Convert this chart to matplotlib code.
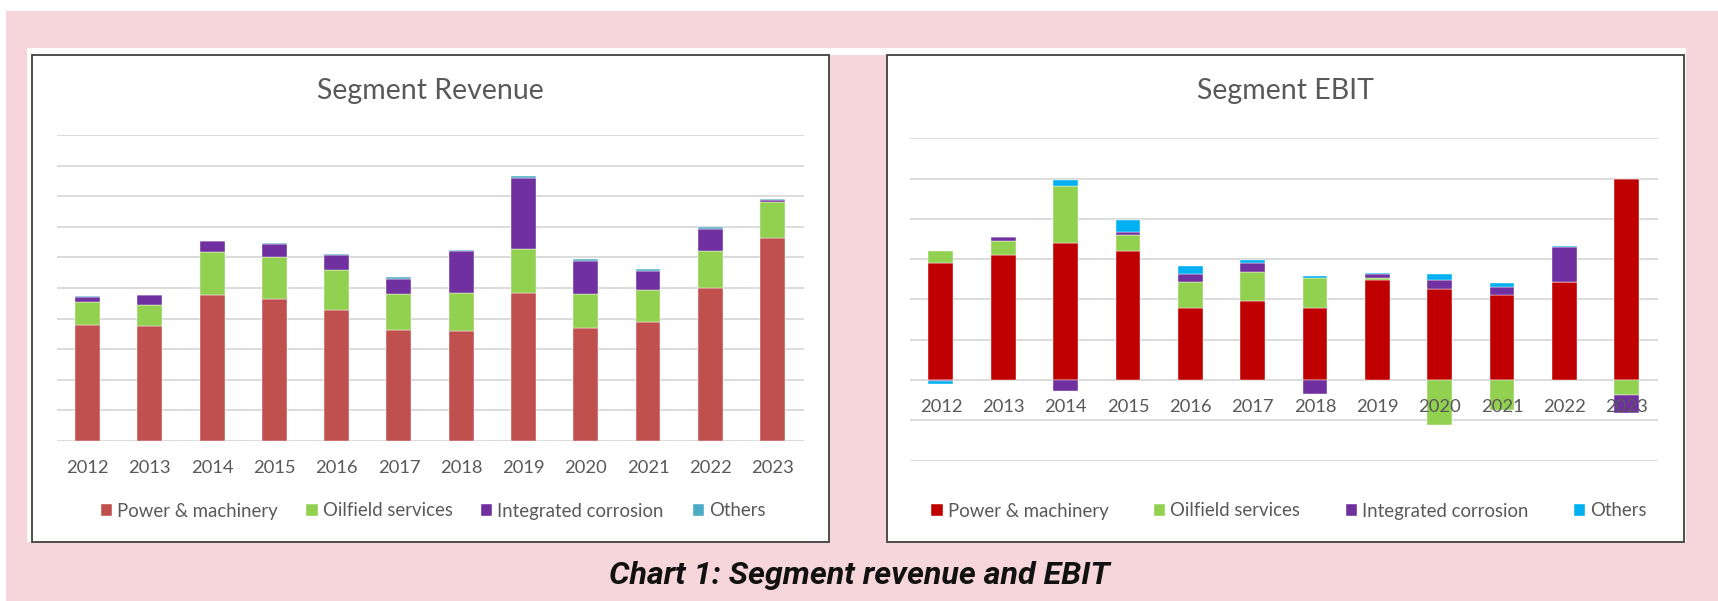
import numpy as np
import matplotlib
matplotlib.use("Agg")
import matplotlib.pyplot as plt
from matplotlib.patches import Rectangle

years = ["2012", "2013", "2014", "2015", "2016", "2017", "2018", "2019", "2020", "2021", "2022", "2023"]
segments = ["Power & machinery", "Oilfield services", "Integrated corrosion", "Others"]

# revenue by segment (in gridline units)
rev_power = [3.79, 3.74, 4.76, 4.63, 4.27, 3.61, 3.58, 4.84, 3.70, 3.88, 5.01, 6.65]
rev_oil = [0.75, 0.71, 1.43, 1.39, 1.32, 1.18, 1.26, 1.44, 1.09, 1.04, 1.19, 1.18]
rev_corr = [0.18, 0.31, 0.34, 0.41, 0.48, 0.52, 1.36, 2.33, 1.11, 0.64, 0.74, 0.05]
rev_others = [0.02, 0.01, 0.02, 0.04, 0.04, 0.05, 0.03, 0.06, 0.04, 0.05, 0.05, 0.03]

# EBIT by segment
ebit_power = [2.91, 3.10, 3.39, 3.21, 1.79, 1.95, 1.79, 2.49, 2.27, 2.12, 2.43, 4.99]
ebit_oil = [0.28, 0.35, 1.43, 0.40, 0.64, 0.73, 0.74, 0.04, -1.12, -0.74, 0.0, -0.38]
ebit_corr = [-0.03, 0.11, -0.28, 0.07, 0.19, 0.23, -0.35, 0.09, 0.20, 0.19, 0.86, -0.43]
ebit_others = [-0.08, 0.0, 0.14, 0.29, 0.21, 0.07, 0.04, 0.04, 0.15, 0.09, 0.04, 0.0]

rev_colors = ["#C0504D", "#92D050", "#7030A0", "#4BACC6"]
ebit_colors = ["#C00000", "#92D050", "#7030A0", "#00B0F0"]

W, H = 1718, 601
FONT = "Lato"
GREY = "#595959"
PINK = "#F6D6DA"

fig = plt.figure(figsize=(W / 100, H / 100), dpi=100)
fig.patch.set_facecolor("white")


def px_rect(x0, y0, x1, y1, **kw):
    # rectangle in pixel coords measured from top-left
    r = Rectangle((x0 / W, 1 - y1 / H), (x1 - x0) / W, (y1 - y0) / H,
                  transform=fig.transFigure, **kw)
    fig.add_artist(r)


# pink backdrop, white card, framed panels
px_rect(5.5, 11, W, H, facecolor=PINK, edgecolor="none", zorder=-3)
px_rect(27.4, 48, 1686, 55, facecolor="white", edgecolor="none", zorder=-2)
px_rect(27.4, 48, 829, 542, facecolor="white", edgecolor="none", zorder=-2)
px_rect(887, 48, 1686, 542, facecolor="white", edgecolor="none", zorder=-2)
px_rect(31.8, 55, 829, 542, facecolor="none", edgecolor="#404040", lw=1.3, zorder=-1)
px_rect(887, 55, 1684, 542, facecolor="none", edgecolor="#404040", lw=1.3, zorder=-1)


def stacked(ax, series, colors, pad):
    x = np.arange(len(years))
    pos = np.zeros(len(years))
    neg = np.zeros(len(years))
    handles = []
    for vals, c, name in zip(series, colors, segments):
        vals = np.array(vals)
        bottom = np.where(vals >= 0, pos, neg)
        b = ax.bar(x, vals, 0.4, bottom=bottom, color=c, edgecolor="white",
                   linewidth=0.3, label=name, zorder=1)
        pos = pos + np.clip(vals, 0, None)
        neg = neg + np.clip(vals, None, 0)
        handles.append(b)
    ax.set_xticks(x)
    ax.set_xticklabels(years, fontsize=13.2, color=GREY, family=FONT)
    ax.set_xlim(-0.5, len(years) - 0.5)
    ax.tick_params(axis="x", length=0, pad=pad)
    ax.set_yticks([])
    for s in ax.spines.values():
        s.set_visible(False)
    ax.set_facecolor("none")
    ax.set_zorder(1)
    return handles


def gridlines(ax, levels):
    for lv in levels:
        ax.axhline(lv, color="#D9D9D9", lw=1.3, zorder=0.5)


# Segment Revenue
ax1 = fig.add_axes([56.5 / W, 1 - 440.7 / H, 747.1 / W, (440.7 - 135.3) / H])
gridlines(ax1, range(0, 11))
h1 = stacked(ax1, [rev_power, rev_oil, rev_corr, rev_others], rev_colors, 14)
ax1.set_ylim(0, 10)

# Segment EBIT
ax2 = fig.add_axes([909.8 / W, 1 - 460.6 / H, 748 / W, (460.6 - 138.2) / H])
ax2.spines["bottom"].set_position(("data", 0))
gridlines(ax2, range(-2, 7))
h2 = stacked(ax2, [ebit_power, ebit_oil, ebit_corr, ebit_others], ebit_colors, 14)
ax2.set_ylim(-2, 6)

fig.text(430 / W, 1 - 91 / H, "Segment Revenue", ha="center", va="center",
         fontsize=20.5, color=GREY, family=FONT)
fig.text(1285.5 / W, 1 - 91 / H, "Segment EBIT", ha="center", va="center",
         fontsize=20.5, color=GREY, family=FONT)

for h, cx, gap in ((h1, 433, 1.55), (h2, 1289, 2.45)):
    leg = fig.legend(h, segments, loc="center", bbox_to_anchor=(cx / W, 1 - 511 / H),
                     ncol=4, frameon=False, handlelength=0.6, handleheight=0.6,
                     handletextpad=0.27, columnspacing=gap,
                     prop={"family": FONT, "size": 13.4})
    for t in leg.get_texts():
        t.set_color(GREY)

fig.text(859 / W, 1 - 575 / H, "Chart 1: Segment revenue and EBIT", ha="center", va="center",
         fontsize=23.2, fontweight="bold", fontstyle="italic", family="Roboto", color="#111111")

fig.savefig("out.png", dpi=100)
